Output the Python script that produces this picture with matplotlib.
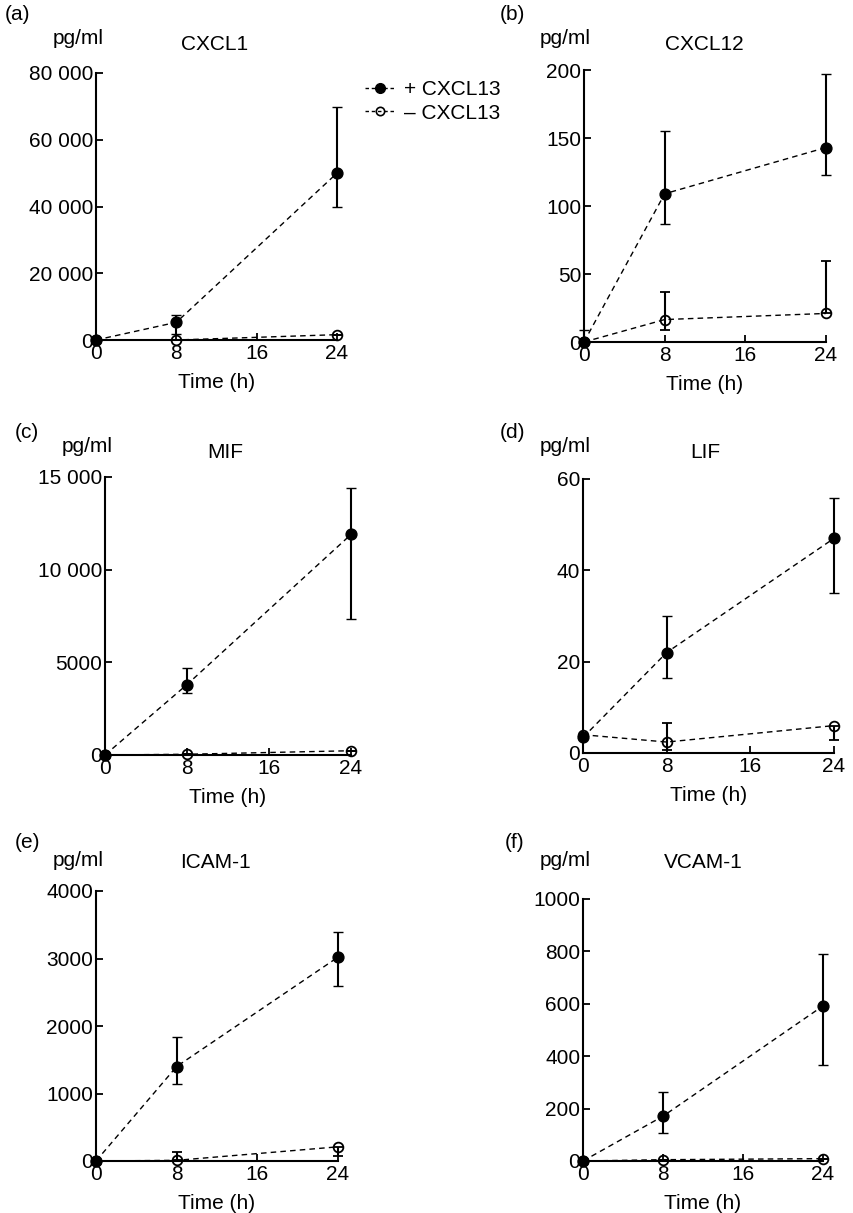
import numpy as np
import matplotlib.pyplot as plt
from matplotlib.lines import Line2D

plt.rcParams['font.family'] = ['Liberation Sans', 'DejaVu Sans']
plt.rcParams['font.size'] = 15

W, H = 854, 1213

# time points (h)
t = [0, 8, 24]

titles = ['CXCL1', 'CXCL12', 'MIF', 'LIF', 'ICAM-1', 'VCAM-1']
letters = ['(a)', '(b)', '(c)', '(d)', '(e)', '(f)']
ymax = [80000, 200, 15000, 60, 4000, 1000]
ystep = [20000, 50, 5000, 20, 1000, 200]

# + CXCL13: mean, lower bar end, upper bar end
plus_mean = [[0, 5300, 50000], [0, 109, 143], [0, 3800, 11900],
             [3.4, 22, 47], [0, 1400, 3020], [0, 171, 592]]
plus_low = [[0, 1700, 40000], [0, 87, 123], [0, 3330, 7350],
            [3.4, 16.5, 35], [0, 1140, 2600], [0, 107, 365]]
plus_high = [[0, 7500, 69800], [8.5, 155, 197], [0, 4680, 14400],
             [3.4, 30, 55.8], [0, 1830, 3400], [0, 262, 790]]

# - CXCL13
minus_mean = [[0, 0, 1600], [0, 16.5, 21], [0, 40, 230],
              [4.0, 2.4, 6.0], [0, 10, 210], [0, 5, 9]]
minus_low = [[0, 0, 1600], [0, 8.5, 21], [0, 40, 230],
             [4.0, 0.7, 2.9], [0, 10, 70], [0, 5, 9]]
minus_high = [[0, 0, 1600], [0, 36.5, 59.5], [0, 40, 230],
              [4.0, 6.6, 6.0], [0, 135, 210], [0, 5, 9]]

# axes boxes in pixels: left, right, top, bottom
boxes = [(96, 337, 73, 340), (584, 826, 70, 342),
         (105, 351, 477, 755), (583, 834, 479, 753),
         (96, 338, 891, 1161), (583, 823, 899, 1161)]
letter_pos = [(5, 15), (500, 15), (15, 432), (500, 432), (15, 842), (505, 842)]
unit_pos = [(53, 38), (540, 38), (62, 447), (540, 447), (53, 860), (540, 860)]
title_pos = [(215, 45), (704, 45), (225, 453), (705, 453), (215, 862), (703, 862)]


def fmt(v):
    v = int(v)
    if v >= 10000:
        return '{:,}'.format(v).replace(',', ' ')
    return str(v)


fig = plt.figure(figsize=(W/100, H/100), dpi=100)

dash = (0, (4, 3))
for i in range(6):
    l, r, tp, b = boxes[i]
    ax = fig.add_axes([l/W, 1-b/H, (r-l)/W, (b-tp)/H])

    for mean, low, high, filled in [(minus_mean[i], minus_low[i], minus_high[i], False),
                                     (plus_mean[i], plus_low[i], plus_high[i], True)]:
        mean = np.array(mean, dtype=float)
        yerr = [mean-np.array(low), np.array(high)-mean]
        h = ax.errorbar(t, mean, yerr=yerr, color='black', ls=dash, lw=1.0,
                        marker='o', ms=7.8 if filled else 7,
                        mfc='black' if filled else 'none', mec='black',
                        mew=1.0 if filled else 1.3,
                        ecolor='black', elinewidth=1.5, capsize=3.6, capthick=1.5,
                        clip_on=False, zorder=3 if filled else 2)
        for art in h.get_children():
            art.set_clip_on(False)

    ax.set_xlim(0, 24)
    ax.set_ylim(0, ymax[i])
    ax.set_xticks([0, 8, 16, 24])
    yt = np.arange(0, ymax[i]+1, ystep[i])
    ax.set_yticks(yt)
    ax.set_yticklabels([fmt(v) for v in yt])
    ax.tick_params(direction='in', length=5, width=1.3, labelsize=15)
    ax.tick_params(axis='y', pad=2)
    ax.tick_params(axis='x', pad=3)
    for s in ['top', 'right']:
        ax.spines[s].set_visible(False)
    for s in ['left', 'bottom']:
        ax.spines[s].set_linewidth(1.5)
    ax.set_xlabel('Time (h)', fontsize=15, labelpad=7)

    fig.text(letter_pos[i][0]/W, 1-letter_pos[i][1]/H, letters[i], fontsize=15,
             ha='left', va='center')
    fig.text(unit_pos[i][0]/W, 1-unit_pos[i][1]/H, 'pg/ml', fontsize=15,
             ha='left', va='center')
    fig.text(title_pos[i][0]/W, 1-title_pos[i][1]/H, titles[i], fontsize=15,
             ha='center', va='center')

hp = Line2D([], [], color='black', ls=(0, (2.5, 2)), lw=1.0, marker='o', ms=7,
            mfc='black', mec='black')
hm = Line2D([], [], color='black', ls=(0, (2.5, 2)), lw=1.0, marker='o', ms=6,
            mfc='none', mec='black', mew=1.2)
fig.legend([hp, hm], ['+ CXCL13', '\u2013 CXCL13'], loc='upper left',
           bbox_to_anchor=(355/W, 1-70/H), frameon=False, handlelength=1.4,
           handletextpad=0.45, labelspacing=0.2, fontsize=15, borderpad=0)

fig.savefig('out.png', dpi=100)
